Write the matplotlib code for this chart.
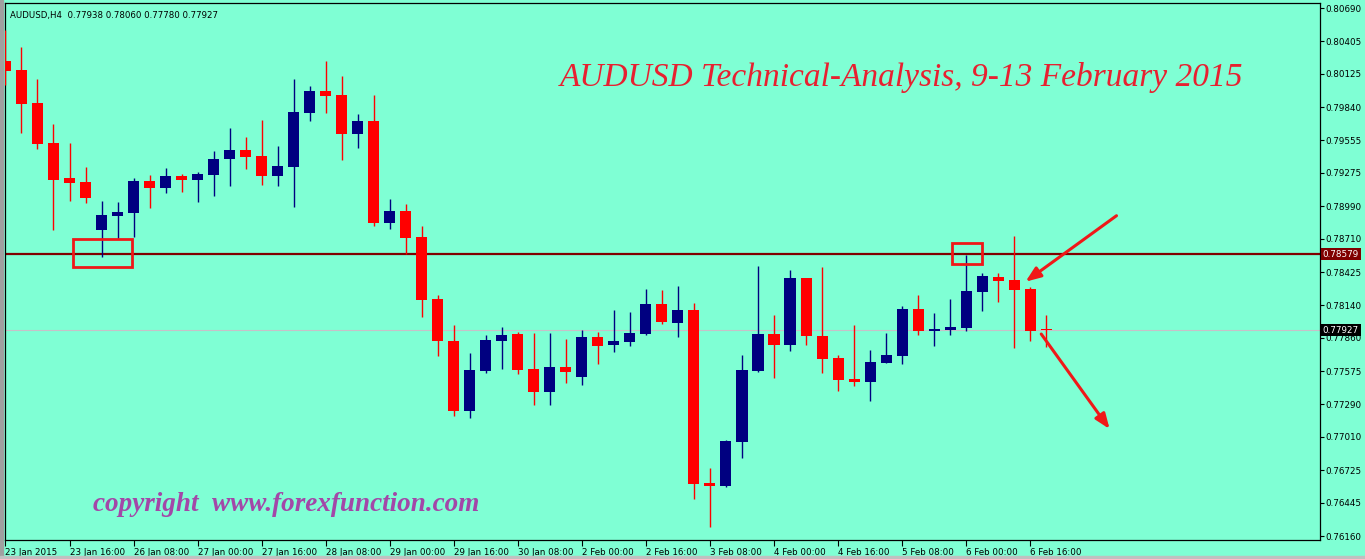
import matplotlib.pyplot as plt
from matplotlib.patches import Rectangle

# ===== data (AUDUSD H4) =====
bar_open = [0.80235, 0.80158, 0.79875, 0.79532, 0.79232, 0.79197, 0.78785, 0.78908, 0.78934, 0.79206,
            0.79148, 0.79249, 0.79217, 0.79260, 0.79397, 0.79472, 0.79420, 0.79251, 0.79328, 0.79792,
            0.79978, 0.79944, 0.79612, 0.79721, 0.78848, 0.78948, 0.78725, 0.78193, 0.77833, 0.77235,
            0.77576, 0.77836, 0.77893, 0.77593, 0.77398, 0.77610, 0.77527, 0.77867, 0.77801, 0.77827,
            0.77896, 0.78150, 0.77990, 0.78099, 0.76615, 0.76592, 0.76969, 0.77578, 0.77893, 0.77801,
            0.78374, 0.77879, 0.77687, 0.77507, 0.77484, 0.77644, 0.77707, 0.78108, 0.77921, 0.77930,
            0.77947, 0.78256, 0.78382, 0.78356, 0.78279, 0.77938]
bar_high = [0.80501, 0.80358, 0.80081, 0.79695, 0.79532, 0.79326, 0.79034, 0.79026, 0.79232, 0.79260,
            0.79320, 0.79266, 0.79280, 0.79463, 0.79660, 0.79583, 0.79729, 0.79506, 0.80081, 0.80021,
            0.80235, 0.80107, 0.79781, 0.79944, 0.79051, 0.79008, 0.78820, 0.78228, 0.77970, 0.77730,
            0.77885, 0.77953, 0.77910, 0.77902, 0.77902, 0.77850, 0.77927, 0.77913, 0.78099, 0.78082,
            0.78279, 0.78271, 0.78305, 0.78159, 0.76746, 0.76984, 0.77713, 0.78477, 0.78056, 0.78442,
            0.78376, 0.78468, 0.77713, 0.77970, 0.77756, 0.77902, 0.78133, 0.78228, 0.78073, 0.78196,
            0.78571, 0.78416, 0.78416, 0.78734, 0.78294, 0.78060]
bar_low = [0.80029, 0.79620, 0.79483, 0.78785, 0.79034, 0.79020, 0.78556, 0.78708, 0.78728, 0.78977,
           0.79105, 0.79111, 0.79028, 0.79080, 0.79165, 0.79311, 0.79171, 0.79165, 0.78985, 0.79723,
           0.79792, 0.79389, 0.79491, 0.78822, 0.78797, 0.78577, 0.78042, 0.77707, 0.77192, 0.77175,
           0.77561, 0.77593, 0.77553, 0.77284, 0.77284, 0.77473, 0.77456, 0.77638, 0.77741, 0.77793,
           0.77885, 0.77981, 0.77870, 0.76480, 0.76240, 0.76583, 0.76832, 0.77570, 0.77518, 0.77750,
           0.77801, 0.77561, 0.77407, 0.77450, 0.77321, 0.77644, 0.77638, 0.77887, 0.77793, 0.77887,
           0.77921, 0.78093, 0.78170, 0.77776, 0.77836, 0.77780]
bar_close = [0.80150, 0.79869, 0.79526, 0.79217, 0.79191, 0.79063, 0.78914, 0.78940, 0.79206, 0.79148,
             0.79249, 0.79217, 0.79266, 0.79395, 0.79472, 0.79414, 0.79251, 0.79334, 0.79798, 0.79978,
             0.79938, 0.79612, 0.79721, 0.78848, 0.78948, 0.78719, 0.78187, 0.77836, 0.77235, 0.77584,
             0.77842, 0.77885, 0.77587, 0.77398, 0.77610, 0.77570, 0.77867, 0.77793, 0.77833, 0.77902,
             0.78150, 0.77999, 0.78099, 0.76609, 0.76592, 0.76975, 0.77584, 0.77893, 0.77801, 0.78374,
             0.77879, 0.77681, 0.77501, 0.77484, 0.77653, 0.77713, 0.78108, 0.77921, 0.77936, 0.77953,
             0.78262, 0.78391, 0.78350, 0.78273, 0.77921, 0.77927]

time_labels = ["23 Jan 2015", "23 Jan 16:00", "26 Jan 08:00", "27 Jan 00:00", "27 Jan 16:00",
               "28 Jan 08:00", "29 Jan 00:00", "29 Jan 16:00", "30 Jan 08:00", "2 Feb 00:00",
               "2 Feb 16:00", "3 Feb 08:00", "4 Feb 00:00", "4 Feb 16:00", "5 Feb 08:00",
               "6 Feb 00:00", "6 Feb 16:00"]
price_ticks = [0.80690, 0.80405, 0.80125, 0.79840, 0.79555, 0.79275, 0.78990, 0.78710, 0.78425,
               0.78140, 0.77860, 0.77575, 0.77290, 0.77010, 0.76725, 0.76445, 0.76160]

resistance = 0.78579
last_price = 0.77927

# marked zones: (bar from, bar to, price low, price high)
zones = [(4.19, 7.91, 0.78468, 0.78708), (59.14, 60.96, 0.78494, 0.78674)]
# arrows: (tail bar, tail price, head bar, head price)
arrows = [(69.39, 0.78908, 63.71, 0.78342), (64.69, 0.77893, 68.96, 0.77078)]

BG = "#7FFFD4"
UP = "#000080"
DOWN = "#FF0000"

fig = plt.figure(figsize=(13.65, 5.59), dpi=100, facecolor=BG)
ax = fig.add_axes([4.5 / 1365, 19 / 559, (1320 - 4.5) / 1365, (540 - 3) / 559])
ax.set_facecolor(BG)

# candles
for i in range(len(bar_open)):
    col = UP if bar_close[i] >= bar_open[i] else DOWN
    ax.vlines(i, bar_low[i], bar_high[i], color=col, lw=1.0, zorder=3)
    body = bar_close[i] - bar_open[i]
    if abs(body) < 0.00009:
        body = 0.00009 if body >= 0 else -0.00009
    ax.bar(i, body, bottom=bar_open[i], width=0.69, color=col, lw=0, zorder=4)

# horizontal lines
ax.axhline(last_price, color="#C8C0C8", lw=0.8, zorder=1)
ax.axhline(resistance, color="#800000", lw=1.6, zorder=2)

# red boxes
for x0, x1, y0, y1 in zones:
    ax.add_patch(Rectangle((x0, y0), x1 - x0, y1 - y0, fill=False,
                           edgecolor="#F01818", lw=2.0, zorder=5))

# arrows
for x0, y0, x1, y1 in arrows:
    ax.annotate("", xy=(x1, y1), xytext=(x0, y0),
                arrowprops=dict(arrowstyle="-|>,head_length=0.9,head_width=0.35",
                                color="#F01818", lw=2.2, shrinkA=0, shrinkB=0), zorder=6)

ax.set_xlim(-0.06, 82.1)
ax.set_ylim(0.76126, 0.807329)

# price scale on the right
ax.yaxis.tick_right()
ax.set_yticks(price_ticks)
ax.set_yticklabels(["%.5f" % p for p in price_ticks], fontsize=6.3, family="DejaVu Sans")
ax.tick_params(axis="y", direction="out", length=3, width=0.8, pad=1.2, colors="black")

# time scale
ax.set_xticks(range(0, 4 * len(time_labels), 4))
ax.set_xticklabels(time_labels, fontsize=6.3, family="DejaVu Sans", ha="left")
ax.tick_params(axis="x", direction="out", length=4, width=0.8, pad=1.5, colors="black")

for s in ax.spines.values():
    s.set_color("black")
    s.set_linewidth(0.9)

# price tags
ax.text(1.002, resistance, "0.78579", transform=ax.get_yaxis_transform(), fontsize=6.3,
        color="white", va="center", ha="left",
        bbox=dict(boxstyle="square,pad=0.22", fc="#800000", ec="none"), zorder=10, clip_on=False)
ax.text(1.002, last_price, "0.77927", transform=ax.get_yaxis_transform(), fontsize=6.3,
        color="white", va="center", ha="left",
        bbox=dict(boxstyle="square,pad=0.22", fc="black", ec="none"), zorder=10, clip_on=False)

# header text
ax.text(0.004, 0.985, "AUDUSD,H4  %.5f %.5f %.5f %.5f" % (bar_open[-1], bar_high[-1], bar_low[-1], bar_close[-1]),
        transform=ax.transAxes, fontsize=6.2, va="top", ha="left", color="black")

# title and copyright
ax.text(0.682, 0.862, "AUDUSD Technical-Analysis, 9-13 February 2015", transform=ax.transAxes,
        fontsize=24, family="Liberation Serif", style="italic", color="#E82030",
        ha="center", va="center")
ax.text(0.067, 0.066, "copyright  www.forexfunction.com", transform=ax.transAxes,
        fontsize=19.5, family="Liberation Serif", style="italic", weight="bold", color="#A347A8",
        ha="left", va="center")

# window frame strips
fig.patches.append(Rectangle((0, 0), 3 / 1365, 1, transform=fig.transFigure, color="#A0A0A0"))
fig.patches.append(Rectangle((0, 0), 1, 3 / 559, transform=fig.transFigure, color="#C0C0C0"))

plt.savefig("out.png", dpi=100, facecolor=BG)
